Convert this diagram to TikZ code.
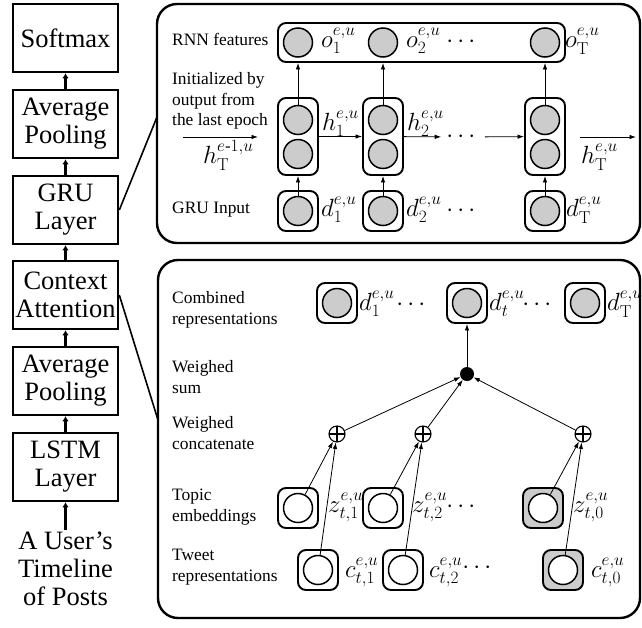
\documentclass[tikz,border=0pt]{standalone}
\usepackage{amsmath}
\usepackage[no-math]{fontspec}
\setmainfont{Liberation Serif}
\usetikzlibrary{arrows.meta}

\begin{document}
\begin{tikzpicture}[x=1pt,y=-1pt,>={Latex[length=6.5pt,width=4.5pt]},
    layer/.style={draw,line width=2.6pt,minimum width=105pt,minimum height=68pt,inner sep=0pt,align=center,font=\fontsize{26.5}{28}\selectfont},
    flow/.style={-{Latex[length=5pt,width=6.5pt]},line width=2.6pt},
    panel/.style={draw,line width=2.4pt,rounded corners=20pt,inner sep=0pt},
    frame/.style={draw,line width=1.9pt,rounded corners=8pt,inner sep=0pt,minimum width=40pt,minimum height=40pt},
    unit/.style={circle,draw,line width=1.5pt,fill=black!20,minimum size=29pt,inner sep=0pt},
    hollow/.style={circle,draw,line width=1.5pt,fill=white,minimum size=29pt,inner sep=0pt},
    note/.style={anchor=west,align=left,inner sep=0pt,font=\fontsize{17.4}{20.5}\selectfont},
    lab/.style={anchor=base west,inner sep=0pt,font=\fontsize{24}{24}\selectfont},
    more/.style={inner sep=1pt,font=\fontsize{24}{24}\selectfont},
    link/.style={->,line width=0.8pt},
    sumdot/.style={circle,fill,minimum size=14pt,inner sep=0pt},
    concat/.style={circle,draw,line width=1.1pt,minimum size=16pt,inner sep=0pt,
        path picture={\draw[line width=1.1pt] (path picture bounding box.north)--(path picture bounding box.south)
        (path picture bounding box.west)--(path picture bounding box.east);}}]
\useasboundingbox (0,0) rectangle (642,627);

% left column
\node[layer] (softmax) at (65.5,38) {Softmax};
\node[layer] (pool2) at (65.5,124) {Average\\Pooling};
\node[layer] (gru) at (65.5,210) {GRU\\Layer};
\node[layer] (ctx) at (65.5,295) {Context\\Attention};
\node[layer] (pool1) at (65.5,381) {Average\\Pooling};
\node[layer] (lstm) at (65.5,467) {LSTM\\Layer};
\node[align=center,inner sep=2pt,font=\fontsize{26.5}{28}\selectfont] (posts) at (65.5,569) {A User's\\Timeline\\of Posts};
\draw[flow] (posts) -- (lstm);
\draw[flow] (lstm) -- (pool1);
\draw[flow] (pool1) -- (ctx);
\draw[flow] (ctx) -- (gru);
\draw[flow] (gru) -- (pool2);
\draw[flow] (pool2) -- (softmax);

% panels
\node[panel,minimum width=483pt,minimum height=239pt] (gruPanel) at (398.5,123.5) {};
\node[panel,minimum width=482pt,minimum height=358pt] (attnPanel) at (399,439) {};
\coordinate (gruend) at (157,117);
\coordinate (attnend) at (158,420);
\draw[line width=1.6pt] (gru.east) -- (gruend);
\draw[line width=1.6pt] (ctx.east) -- (attnend);

% GRU panel
\node[note] (rnnnote) at (172,39) {RNN features};
\node[frame,minimum width=287pt,minimum height=39pt] (rnnbox) at (421.5,42.5) {};
\node[unit] (o1) at (298,42.5) {};
\node[unit] (o2) at (383,42.5) {};
\node[unit] (oT) at (545,42.5) {};
\node[lab] (o1lab) at (321,47) {$o_1^{e,u}$};
\node[lab] (o2lab) at (406,47) {$o_2^{e,u}$};
\node[more] (odots) at (463,42) {$\cdots$};
\node[lab] (oTlab) at (565,47) {$o_{\mathrm{T}}^{e,u}$};

\node[note] (initnote) at (172,101) {Initialized by\\output from\\the last epoch};
\node[frame,minimum height=77pt] (col1) at (298,136.5) {};
\node[unit] (h1a) at (298,120) {};
\node[unit] (h1b) at (298,154) {};
\node[frame,minimum height=77pt] (col2) at (383,136.5) {};
\node[unit] (h2a) at (383,120) {};
\node[unit] (h2b) at (383,154) {};
\node[frame,minimum height=77pt] (colT) at (545,136.5) {};
\node[unit] (hTa) at (545,120) {};
\node[unit] (hTb) at (545,154) {};
\node[lab] (h1lab) at (322,130) {$h_1^{e,u}$};
\node[lab] (h2lab) at (407,130) {$h_2^{e,u}$};
\node[more,inner sep=5pt] (hdots) at (463,137) {$\cdots$};
\coordinate (hin1) at (183,137);
\coordinate (hin2) at (258,137);
\node[lab] (hinlab) at (203,163) {$h_{\mathrm{T}}^{e\text{-}1,u}$};
\coordinate (hout1) at (580,137);
\coordinate (hout2) at (636,137);
\node[lab] (houtlab) at (581,163) {$h_{\mathrm{T}}^{e,u}$};

\node[note] (grunote) at (172,210) {GRU Input};
\node[frame] (d1box) at (298,211) {};
\node[unit] (d1) at (298,211) {};
\node[frame] (d2box) at (383,211) {};
\node[unit] (d2) at (383,211) {};
\node[frame] (dTbox) at (545,211) {};
\node[unit] (dT) at (545,211) {};
\node[lab] (d1lab) at (321,216) {$d_1^{e,u}$};
\node[lab] (d2lab) at (406,216) {$d_2^{e,u}$};
\node[more] (ddots) at (463,211) {$\cdots$};
\node[lab] (dTlab) at (566,216) {$d_{\mathrm{T}}^{e,u}$};

\draw[link] (d1) -- (col1);
\draw[link] (d2) -- (col2);
\draw[link] (dT) -- (colT);
\draw[link] (h1a) -- (h1a |- rnnbox.south);
\draw[link] (h2a) -- (h2a |- rnnbox.south);
\draw[link] (hTa) -- (hTa |- rnnbox.south);
\draw[link] (hin1) -- (hin2);
\draw[link] (col1) -- (col2);
\draw[link] (col2) -- (hdots);
\draw[link] (hdots) -- (colT);
\draw[link] (hout1) -- (hout2);

% attention panel
\node[note] (combnote) at (172,310) {Combined\\representations};
\node[note] (sumnote) at (172,377) {Weighed\\sum};
\node[note] (catnote) at (172,433) {Weighed\\concatenate};
\node[note] (topicnote) at (172,507) {Topic\\embeddings};
\node[note] (tweetnote) at (172,567) {Tweet\\representations};

\node[frame] (cb1) at (337,303) {};
\node[unit] (comb1) at (337,303) {};
\node[frame] (cb2) at (467,303) {};
\node[unit] (comb2) at (467,303) {};
\node[frame] (cbT) at (585,303) {};
\node[unit] (combT) at (585,303) {};
\node[lab] (comb1lab) at (359,310) {$d_1^{e,u}$};
\node[more] (combdots1) at (413,305) {$\cdots$};
\node[lab] (comb2lab) at (489,310) {$d_t^{e,u}$};
\node[more] (combdots2) at (539,305) {$\cdots$};
\node[lab] (combTlab) at (607,310) {$d_{\mathrm{T}}^{e,u}$};

\node[sumdot] (wsum) at (467,374) {};
\node[concat] (cat1) at (337,434) {};
\node[concat] (cat2) at (423,434) {};
\node[concat] (catT) at (583,434) {};

\node[frame] (tb1) at (298,508) {};
\node[hollow] (tc1) at (298,508) {};
\node[frame] (tb2) at (383,508) {};
\node[hollow] (tc2) at (383,508) {};
\node[frame,fill=black!20] (tbT) at (543,508) {};
\node[hollow] (tcT) at (543,508) {};
\node[lab] (z1lab) at (328,512) {$z_{t,1}^{e,u}$};
\node[lab] (z2lab) at (412,512) {$z_{t,2}^{e,u}$};
\node[more] (zdots) at (463,507) {$\cdots$};
\node[lab] (z0lab) at (573,512) {$z_{t,0}^{e,u}$};

\node[frame] (wb1) at (318,570) {};
\node[hollow] (wc1) at (318,570) {};
\node[frame] (wb2) at (403,570) {};
\node[hollow] (wc2) at (403,570) {};
\node[frame,fill=black!20] (wbT) at (563,570) {};
\node[hollow] (wcT) at (563,570) {};
\node[lab] (c1lab) at (345,577) {$c_{t,1}^{e,u}$};
\node[lab] (c2lab) at (429,577) {$c_{t,2}^{e,u}$};
\node[more] (cdots) at (479,568) {$\cdots$};
\node[lab] (c0lab) at (591,577) {$c_{t,0}^{e,u}$};

\draw[link] (tc1) -- (cat1);
\draw[link] (wc1) -- (cat1);
\draw[link] (tc2) -- (cat2);
\draw[link] (wc2) -- (cat2);
\draw[link] (tcT) -- (catT);
\draw[link] (wcT) -- (catT);
\draw[link] (cat1) -- (wsum);
\draw[link] (cat2) -- (wsum);
\draw[link] (catT) -- (wsum);
\draw[link] (wsum) -- (cb2);
\end{tikzpicture}
\end{document}
